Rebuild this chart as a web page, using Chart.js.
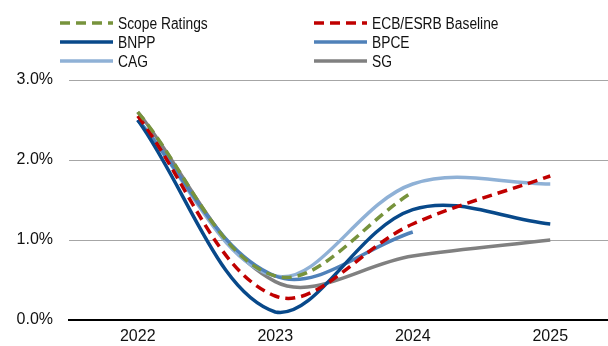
<!DOCTYPE html>
<html>
<head>
<meta charset="utf-8">
<script src="https://cdn.jsdelivr.net/npm/chart.js@4.4.1/dist/chart.umd.min.js"></script>
<style>
  html, body { margin: 0; padding: 0; background: #fff; overflow: hidden; }
  /* plot runs a little past the right edge of the page */
  #wrap { width: 619px; height: 346px; position: relative; }
</style>
</head>
<body>
<div id="wrap"><canvas id="c"></canvas></div>
<script>
const years = ['2022', '2023', '2024', '2025'];

const scopeRatings = [2.6, 0.55, 1.6, null];
const ecbBaseline  = [2.55, 0.3, 1.2, 1.8];
const bnpp         = [2.5, 0.1, 1.38, 1.2];
const bpce         = [2.5, 0.55, 1.1, null];
const cag          = [2.5, 0.55, 1.7, 1.7];
const sg           = [2.6, 0.48, 0.8, 1.0];

const FAMILY = '"Liberation Sans", Arial, sans-serif';
const TICK_FONT = { family: FAMILY, size: 16 };

function series(label, data, color, dashed) {
  return {
    label, data,
    borderColor: color,
    backgroundColor: color,
    borderWidth: 3.5,
    borderDash: dashed ? [10, 6] : [],
    borderCapStyle: 'butt',
    pointRadius: 0,
    tension: 0.36,
    spanGaps: false,
    fill: false,
  };
}

// two-column legend drawn above the plot (text slightly stretched vertically)
const legendGrid = {
  id: 'legendGrid',
  afterDraw(chart) {
    const ctx = chart.ctx;
    ctx.save();
    chart.data.datasets.forEach((ds, i) => {
      const col = i % 2, row = Math.floor(i / 2);
      const x0 = col ? 314 : 60;
      const y = 23 + row * 19;
      ctx.beginPath();
      ctx.strokeStyle = ds.borderColor;
      ctx.lineWidth = ds.borderWidth;
      ctx.setLineDash(ds.borderDash);
      ctx.moveTo(x0, y);
      ctx.lineTo(x0 + 53, y);
      ctx.stroke();
      ctx.setLineDash([]);
      ctx.save();
      ctx.translate(x0 + 58, y + 1);
      ctx.scale(1, 1.25);
      ctx.font = `13.8px ${FAMILY}`;
      ctx.textBaseline = 'middle';
      ctx.fillStyle = '#111';
      ctx.fillText(ds.label, 0, 0);
      ctx.restore();
    });
    ctx.restore();
  }
};

new Chart(document.getElementById('c'), {
  type: 'line',
  data: {
    labels: years,
    datasets: [
      series('Scope Ratings', scopeRatings, '#77933C', true),
      series('ECB/ESRB Baseline', ecbBaseline, '#C00000', true),
      series('BNPP', bnpp, '#08498A', false),
      series('BPCE', bpce, '#4F81B9', false),
      series('CAG', cag, '#8FB1D6', false),
      series('SG', sg, '#808080', false),
    ]
  },
  options: {
    responsive: true,
    maintainAspectRatio: false,
    animation: false,
    layout: { padding: { top: 80, left: 0, right: 0, bottom: 0 } },
    plugins: { legend: { display: false }, tooltip: { enabled: false } },
    scales: {
      x: {
        offset: true,
        grid: { display: false, drawTicks: false },
        border: { display: true, color: '#000', width: 2 },
        ticks: { color: '#111', font: TICK_FONT, padding: 7 },
        afterFit: s => { s.height = 26; },
      },
      y: {
        min: 0, max: 3,
        grid: { color: '#a6a6a6', lineWidth: 1, drawTicks: false },
        border: { display: false },
        ticks: {
          stepSize: 1,
          color: '#111',
          font: TICK_FONT,
          padding: 16,
          callback: v => v.toFixed(1) + '%',
        },
        afterFit: s => { s.width = 69; },
      }
    }
  },
  plugins: [legendGrid]
});
</script>
</body>
</html>
